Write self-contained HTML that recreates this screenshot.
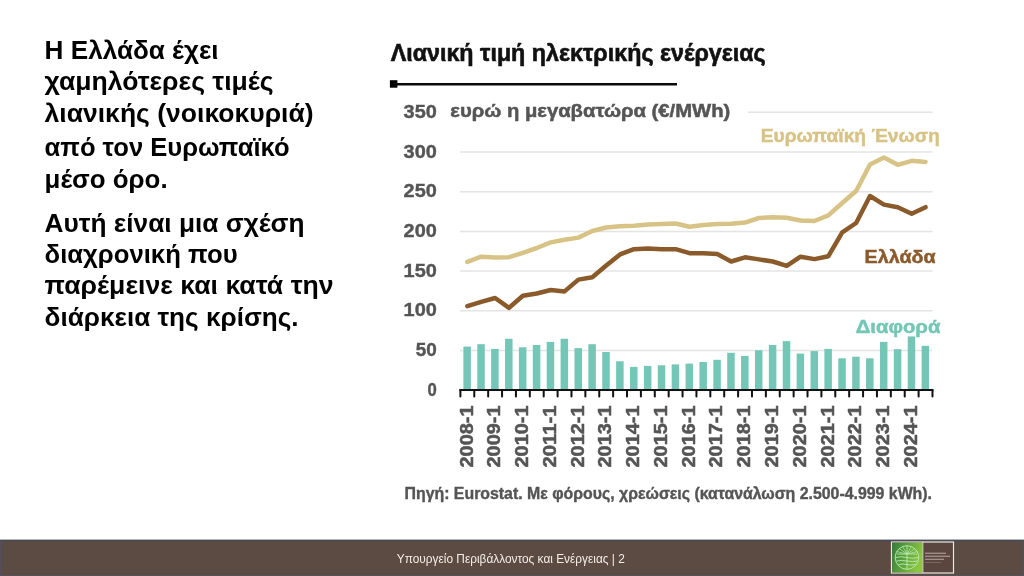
<!DOCTYPE html>
<html><head><meta charset="utf-8">
<style>
html,body{margin:0;padding:0;background:#fff;}
body{width:1024px;height:576px;overflow:hidden;position:relative;font-family:"Liberation Sans",sans-serif;}
svg{position:absolute;left:0;top:0;will-change:transform;}
.lt{font-family:"Liberation Sans",sans-serif;font-weight:bold;font-size:25px;fill:#000;}
.yl{font-family:"Liberation Sans",sans-serif;font-weight:bold;font-size:19px;fill:#555;stroke:#555;stroke-width:0.4px;}
.xl{font-family:"Liberation Sans",sans-serif;font-weight:bold;font-size:18px;fill:#555;stroke:#555;stroke-width:0.5px;}
.tt{font-family:"Liberation Sans",sans-serif;font-weight:bold;font-size:23.5px;fill:#111;stroke:#111;stroke-width:0.6px;}
.un{font-family:"Liberation Sans",sans-serif;font-weight:bold;font-size:19px;fill:#555;stroke:#555;stroke-width:0.5px;}
.lg{font-family:"Liberation Sans",sans-serif;font-weight:bold;font-size:19px;stroke-width:0.5px;}
.src{font-family:"Liberation Sans",sans-serif;font-weight:bold;font-size:16.5px;fill:#555;stroke:#555;stroke-width:0.4px;}
.ft{font-family:"Liberation Sans",sans-serif;font-size:12px;fill:#f4eee8;}
</style></head>
<body>
<svg width="1024" height="576" viewBox="0 0 1024 576">
<!-- left text -->
<text class="lt" x="44.6" y="58.80" textLength="174" lengthAdjust="spacingAndGlyphs">Η Ελλάδα έχει</text>
<text class="lt" x="44.6" y="90.10" textLength="229" lengthAdjust="spacingAndGlyphs">χαμηλότερες τιμές</text>
<text class="lt" x="44.6" y="122.30" textLength="269" lengthAdjust="spacingAndGlyphs">λιανικής (νοικοκυριά)</text>
<text class="lt" x="44.6" y="155.70" textLength="245" lengthAdjust="spacingAndGlyphs">από τον Ευρωπαϊκό</text>
<text class="lt" x="44.6" y="187.90" textLength="123" lengthAdjust="spacingAndGlyphs">μέσο όρο.</text>
<text class="lt" x="44.6" y="231.75" textLength="260" lengthAdjust="spacingAndGlyphs">Αυτή είναι μια σχέση</text>
<text class="lt" x="44.6" y="263.00" textLength="193" lengthAdjust="spacingAndGlyphs">διαχρονική που</text>
<text class="lt" x="44.6" y="294.25" textLength="289" lengthAdjust="spacingAndGlyphs">παρέμεινε και κατά την</text>
<text class="lt" x="44.6" y="325.50" textLength="254" lengthAdjust="spacingAndGlyphs">διάρκεια της κρίσης.</text>
<!-- chart title -->
<text class="tt" x="390.7" y="61.3" textLength="375" lengthAdjust="spacingAndGlyphs">Λιανική τιμή ηλεκτρικής ενέργειας</text>
<rect x="389.9" y="80.2" width="7.5" height="7.5" fill="#000"/>
<line x1="394" y1="84.3" x2="677" y2="84.3" stroke="#0a0a0a" stroke-width="2.4"/>
<text class="un" x="450.3" y="116.6" textLength="280" lengthAdjust="spacingAndGlyphs">ευρώ η μεγαβατώρα (€/MWh)</text>
<line x1="460" y1="350.5" x2="932.5" y2="350.5" stroke="#e4e4e4" stroke-width="1.5"/>
<line x1="460" y1="310.79999999999995" x2="932.5" y2="310.79999999999995" stroke="#e4e4e4" stroke-width="1.5"/>
<line x1="460" y1="271.09999999999997" x2="932.5" y2="271.09999999999997" stroke="#e4e4e4" stroke-width="1.5"/>
<line x1="460" y1="231.39999999999998" x2="932.5" y2="231.39999999999998" stroke="#e4e4e4" stroke-width="1.5"/>
<line x1="460" y1="191.7" x2="932.5" y2="191.7" stroke="#e4e4e4" stroke-width="1.5"/>
<line x1="460" y1="151.99999999999997" x2="932.5" y2="151.99999999999997" stroke="#e4e4e4" stroke-width="1.5"/>
<line x1="748" y1="112.3" x2="932.5" y2="112.3" stroke="#e4e4e4" stroke-width="1.5"/>
<rect x="463.39" y="346.60" width="7.5" height="43.40" fill="#74c7b6"/>
<rect x="477.28" y="344.20" width="7.5" height="45.80" fill="#74c7b6"/>
<rect x="491.16" y="348.90" width="7.5" height="41.10" fill="#74c7b6"/>
<rect x="505.05" y="338.75" width="7.5" height="51.25" fill="#74c7b6"/>
<rect x="518.93" y="347.30" width="7.5" height="42.70" fill="#74c7b6"/>
<rect x="532.82" y="345.00" width="7.5" height="45.00" fill="#74c7b6"/>
<rect x="546.70" y="341.90" width="7.5" height="48.10" fill="#74c7b6"/>
<rect x="560.59" y="338.75" width="7.5" height="51.25" fill="#74c7b6"/>
<rect x="574.47" y="348.10" width="7.5" height="41.90" fill="#74c7b6"/>
<rect x="588.36" y="344.20" width="7.5" height="45.80" fill="#74c7b6"/>
<rect x="602.24" y="352.00" width="7.5" height="38.00" fill="#74c7b6"/>
<rect x="616.13" y="361.25" width="7.5" height="28.75" fill="#74c7b6"/>
<rect x="630.01" y="366.90" width="7.5" height="23.10" fill="#74c7b6"/>
<rect x="643.90" y="365.90" width="7.5" height="24.10" fill="#74c7b6"/>
<rect x="657.78" y="365.30" width="7.5" height="24.70" fill="#74c7b6"/>
<rect x="671.67" y="364.40" width="7.5" height="25.60" fill="#74c7b6"/>
<rect x="685.55" y="363.60" width="7.5" height="26.40" fill="#74c7b6"/>
<rect x="699.44" y="362.00" width="7.5" height="28.00" fill="#74c7b6"/>
<rect x="713.32" y="359.80" width="7.5" height="30.20" fill="#74c7b6"/>
<rect x="727.21" y="352.80" width="7.5" height="37.20" fill="#74c7b6"/>
<rect x="741.09" y="355.90" width="7.5" height="34.10" fill="#74c7b6"/>
<rect x="754.98" y="350.30" width="7.5" height="39.70" fill="#74c7b6"/>
<rect x="768.86" y="345.00" width="7.5" height="45.00" fill="#74c7b6"/>
<rect x="782.75" y="341.10" width="7.5" height="48.90" fill="#74c7b6"/>
<rect x="796.63" y="353.60" width="7.5" height="36.40" fill="#74c7b6"/>
<rect x="810.52" y="351.10" width="7.5" height="38.90" fill="#74c7b6"/>
<rect x="824.40" y="348.90" width="7.5" height="41.10" fill="#74c7b6"/>
<rect x="838.29" y="358.30" width="7.5" height="31.70" fill="#74c7b6"/>
<rect x="852.17" y="356.70" width="7.5" height="33.30" fill="#74c7b6"/>
<rect x="866.06" y="358.30" width="7.5" height="31.70" fill="#74c7b6"/>
<rect x="879.94" y="341.90" width="7.5" height="48.10" fill="#74c7b6"/>
<rect x="893.83" y="349.20" width="7.5" height="40.80" fill="#74c7b6"/>
<rect x="907.71" y="336.40" width="7.5" height="53.60" fill="#74c7b6"/>
<rect x="921.60" y="345.80" width="7.5" height="44.20" fill="#74c7b6"/>
<polyline points="467.34,261.90 481.23,256.70 495.11,257.50 509.00,257.20 522.88,252.80 536.77,248.00 550.65,242.40 564.54,239.80 578.42,237.60 592.31,231.00 606.19,227.50 620.08,226.30 633.96,225.80 647.85,224.60 661.73,224.10 675.62,223.50 689.50,226.70 703.39,224.90 717.27,224.10 731.16,223.80 745.04,222.60 758.93,218.00 772.81,217.30 786.70,217.80 800.58,220.50 814.47,221.00 828.35,215.40 842.24,203.00 856.12,191.00 870.01,164.50 883.89,157.40 897.78,164.80 911.66,160.80 925.55,161.90" fill="none" stroke="#d8c386" stroke-width="4.5" stroke-linejoin="round" stroke-linecap="round"/>
<polyline points="467.34,306.10 481.23,301.80 495.11,298.00 509.00,307.90 522.88,295.70 536.77,293.50 550.65,290.00 564.54,291.40 578.42,279.60 592.31,277.20 606.19,265.50 620.08,254.40 633.96,249.20 647.85,248.40 661.73,249.20 675.62,249.20 689.50,253.20 703.39,253.20 717.27,254.10 731.16,261.50 745.04,257.30 758.93,259.40 772.81,261.50 786.70,265.90 800.58,256.70 814.47,259.10 828.35,256.20 842.24,232.40 856.12,223.00 870.01,196.00 883.89,204.60 897.78,207.20 911.66,213.80 925.55,207.20" fill="none" stroke="#8b5a2b" stroke-width="4.5" stroke-linejoin="round" stroke-linecap="round"/>
<line x1="459.4" y1="390.0" x2="933.4" y2="390.0" stroke="#111" stroke-width="2.2"/>
<line x1="460.40" y1="390.0" x2="460.40" y2="396.6" stroke="#111" stroke-width="2" stroke-linecap="round"/>
<line x1="474.28" y1="390.0" x2="474.28" y2="396.6" stroke="#111" stroke-width="2" stroke-linecap="round"/>
<line x1="488.17" y1="390.0" x2="488.17" y2="396.6" stroke="#111" stroke-width="2" stroke-linecap="round"/>
<line x1="502.05" y1="390.0" x2="502.05" y2="396.6" stroke="#111" stroke-width="2" stroke-linecap="round"/>
<line x1="515.94" y1="390.0" x2="515.94" y2="396.6" stroke="#111" stroke-width="2" stroke-linecap="round"/>
<line x1="529.82" y1="390.0" x2="529.82" y2="396.6" stroke="#111" stroke-width="2" stroke-linecap="round"/>
<line x1="543.71" y1="390.0" x2="543.71" y2="396.6" stroke="#111" stroke-width="2" stroke-linecap="round"/>
<line x1="557.60" y1="390.0" x2="557.60" y2="396.6" stroke="#111" stroke-width="2" stroke-linecap="round"/>
<line x1="571.48" y1="390.0" x2="571.48" y2="396.6" stroke="#111" stroke-width="2" stroke-linecap="round"/>
<line x1="585.37" y1="390.0" x2="585.37" y2="396.6" stroke="#111" stroke-width="2" stroke-linecap="round"/>
<line x1="599.25" y1="390.0" x2="599.25" y2="396.6" stroke="#111" stroke-width="2" stroke-linecap="round"/>
<line x1="613.13" y1="390.0" x2="613.13" y2="396.6" stroke="#111" stroke-width="2" stroke-linecap="round"/>
<line x1="627.02" y1="390.0" x2="627.02" y2="396.6" stroke="#111" stroke-width="2" stroke-linecap="round"/>
<line x1="640.90" y1="390.0" x2="640.90" y2="396.6" stroke="#111" stroke-width="2" stroke-linecap="round"/>
<line x1="654.79" y1="390.0" x2="654.79" y2="396.6" stroke="#111" stroke-width="2" stroke-linecap="round"/>
<line x1="668.67" y1="390.0" x2="668.67" y2="396.6" stroke="#111" stroke-width="2" stroke-linecap="round"/>
<line x1="682.56" y1="390.0" x2="682.56" y2="396.6" stroke="#111" stroke-width="2" stroke-linecap="round"/>
<line x1="696.44" y1="390.0" x2="696.44" y2="396.6" stroke="#111" stroke-width="2" stroke-linecap="round"/>
<line x1="710.33" y1="390.0" x2="710.33" y2="396.6" stroke="#111" stroke-width="2" stroke-linecap="round"/>
<line x1="724.21" y1="390.0" x2="724.21" y2="396.6" stroke="#111" stroke-width="2" stroke-linecap="round"/>
<line x1="738.10" y1="390.0" x2="738.10" y2="396.6" stroke="#111" stroke-width="2" stroke-linecap="round"/>
<line x1="751.98" y1="390.0" x2="751.98" y2="396.6" stroke="#111" stroke-width="2" stroke-linecap="round"/>
<line x1="765.87" y1="390.0" x2="765.87" y2="396.6" stroke="#111" stroke-width="2" stroke-linecap="round"/>
<line x1="779.75" y1="390.0" x2="779.75" y2="396.6" stroke="#111" stroke-width="2" stroke-linecap="round"/>
<line x1="793.64" y1="390.0" x2="793.64" y2="396.6" stroke="#111" stroke-width="2" stroke-linecap="round"/>
<line x1="807.52" y1="390.0" x2="807.52" y2="396.6" stroke="#111" stroke-width="2" stroke-linecap="round"/>
<line x1="821.41" y1="390.0" x2="821.41" y2="396.6" stroke="#111" stroke-width="2" stroke-linecap="round"/>
<line x1="835.29" y1="390.0" x2="835.29" y2="396.6" stroke="#111" stroke-width="2" stroke-linecap="round"/>
<line x1="849.18" y1="390.0" x2="849.18" y2="396.6" stroke="#111" stroke-width="2" stroke-linecap="round"/>
<line x1="863.07" y1="390.0" x2="863.07" y2="396.6" stroke="#111" stroke-width="2" stroke-linecap="round"/>
<line x1="876.95" y1="390.0" x2="876.95" y2="396.6" stroke="#111" stroke-width="2" stroke-linecap="round"/>
<line x1="890.84" y1="390.0" x2="890.84" y2="396.6" stroke="#111" stroke-width="2" stroke-linecap="round"/>
<line x1="904.72" y1="390.0" x2="904.72" y2="396.6" stroke="#111" stroke-width="2" stroke-linecap="round"/>
<line x1="918.61" y1="390.0" x2="918.61" y2="396.6" stroke="#111" stroke-width="2" stroke-linecap="round"/>
<line x1="932.49" y1="390.0" x2="932.49" y2="396.6" stroke="#111" stroke-width="2" stroke-linecap="round"/>
<text x="403.6" y="117.8" class="yl" textLength="33.2" lengthAdjust="spacingAndGlyphs">350</text>
<text x="403.6" y="157.5" class="yl" textLength="33.2" lengthAdjust="spacingAndGlyphs">300</text>
<text x="403.6" y="197.2" class="yl" textLength="33.2" lengthAdjust="spacingAndGlyphs">250</text>
<text x="403.6" y="236.9" class="yl" textLength="33.2" lengthAdjust="spacingAndGlyphs">200</text>
<text x="403.6" y="276.6" class="yl" textLength="33.2" lengthAdjust="spacingAndGlyphs">150</text>
<text x="403.6" y="316.3" class="yl" textLength="33.2" lengthAdjust="spacingAndGlyphs">100</text>
<text x="415.8" y="356.0" class="yl" textLength="21" lengthAdjust="spacingAndGlyphs">50</text>
<text x="427.5" y="395.7" class="yl" textLength="9.3" lengthAdjust="spacingAndGlyphs">0</text>
<text transform="translate(472.54,467.5) rotate(-90)" class="xl" textLength="62" lengthAdjust="spacingAndGlyphs">2008-1</text>
<text transform="translate(500.31,467.5) rotate(-90)" class="xl" textLength="62" lengthAdjust="spacingAndGlyphs">2009-1</text>
<text transform="translate(528.08,467.5) rotate(-90)" class="xl" textLength="62" lengthAdjust="spacingAndGlyphs">2010-1</text>
<text transform="translate(555.85,467.5) rotate(-90)" class="xl" textLength="62" lengthAdjust="spacingAndGlyphs">2011-1</text>
<text transform="translate(583.62,467.5) rotate(-90)" class="xl" textLength="62" lengthAdjust="spacingAndGlyphs">2012-1</text>
<text transform="translate(611.39,467.5) rotate(-90)" class="xl" textLength="62" lengthAdjust="spacingAndGlyphs">2013-1</text>
<text transform="translate(639.16,467.5) rotate(-90)" class="xl" textLength="62" lengthAdjust="spacingAndGlyphs">2014-1</text>
<text transform="translate(666.93,467.5) rotate(-90)" class="xl" textLength="62" lengthAdjust="spacingAndGlyphs">2015-1</text>
<text transform="translate(694.70,467.5) rotate(-90)" class="xl" textLength="62" lengthAdjust="spacingAndGlyphs">2016-1</text>
<text transform="translate(722.47,467.5) rotate(-90)" class="xl" textLength="62" lengthAdjust="spacingAndGlyphs">2017-1</text>
<text transform="translate(750.24,467.5) rotate(-90)" class="xl" textLength="62" lengthAdjust="spacingAndGlyphs">2018-1</text>
<text transform="translate(778.01,467.5) rotate(-90)" class="xl" textLength="62" lengthAdjust="spacingAndGlyphs">2019-1</text>
<text transform="translate(805.78,467.5) rotate(-90)" class="xl" textLength="62" lengthAdjust="spacingAndGlyphs">2020-1</text>
<text transform="translate(833.55,467.5) rotate(-90)" class="xl" textLength="62" lengthAdjust="spacingAndGlyphs">2021-1</text>
<text transform="translate(861.32,467.5) rotate(-90)" class="xl" textLength="62" lengthAdjust="spacingAndGlyphs">2022-1</text>
<text transform="translate(889.09,467.5) rotate(-90)" class="xl" textLength="62" lengthAdjust="spacingAndGlyphs">2023-1</text>
<text transform="translate(916.86,467.5) rotate(-90)" class="xl" textLength="62" lengthAdjust="spacingAndGlyphs">2024-1</text>
<text class="lg" x="760.7" y="142.3" fill="#d8c386" stroke="#d8c386" textLength="179" lengthAdjust="spacingAndGlyphs">Ευρωπαϊκή Ένωση</text>
<text class="lg" x="864.6" y="262.8" fill="#8b5a2b" stroke="#8b5a2b" textLength="71" lengthAdjust="spacingAndGlyphs">Ελλάδα</text>
<text class="lg" x="855.7" y="332.8" fill="#74c7b6" stroke="#74c7b6" textLength="84.7" lengthAdjust="spacingAndGlyphs">Διαφορά</text>
<text class="src" x="404.5" y="498.7" textLength="527.5" lengthAdjust="spacingAndGlyphs">Πηγή: Eurostat. Με φόρους, χρεώσεις (κατανάλωση 2.500-4.999 kWh).</text>
<!-- footer -->
<rect x="0" y="540.2" width="1024" height="36" fill="#5b4b43"/>
<rect x="0" y="539.6" width="1024" height="1.8" fill="#474a56"/>
<text class="ft" x="396.8" y="562.8" textLength="228" lengthAdjust="spacingAndGlyphs">Υπουργείο Περιβάλλοντος και Ενέργειας | 2</text>
<rect x="0" y="540" width="1.6" height="36" fill="#52505c"/>
<rect x="1022.6" y="540" width="1.4" height="36" fill="#524e5c"/>
<rect x="0" y="575" width="1024" height="1" fill="#55505a"/>
<!-- logo -->
<defs><linearGradient id="lg1" x1="0" y1="0" x2="1" y2="0.3"><stop offset="0" stop-color="#2f7d3a"/><stop offset="1" stop-color="#8dc641"/></linearGradient></defs>
<rect x="891.5" y="542" width="62" height="31" fill="#5a463e" stroke="#ebe6df" stroke-width="1.2"/>
<rect x="892.1" y="542.6" width="30.6" height="29.8" fill="url(#lg1)"/>
<line x1="922.9" y1="542" x2="922.9" y2="573" stroke="#ebe6df" stroke-width="0.8"/>
<g stroke="#b9ecb0" fill="none" stroke-width="0.9">
<circle cx="907" cy="557.5" r="11.8"/>
<line x1="907" y1="546" x2="907" y2="569.3"/>
<path d="M897 554 L917 554 M895.5 557.5 Q901 556 907 557.5 Q913 559 918.5 557.5 M896.5 561 Q901 560 907 561 Q913 562 917.5 561 M898.5 564.5 Q903 563.5 907 564.5 Q912 565.5 915.5 564.5"/>
<path d="M907 554 L899 548.5 M907 554 L902.5 546.5 M907 554 L911.5 546.5 M907 554 L915 548.5 M907 554 L917.5 551.5 M907 554 L896.5 551.5" stroke-width="0.7"/>
</g>
<g fill="#9d8f86">
<rect x="925" y="552.6" width="21" height="1.4"/>
<rect x="925" y="555.6" width="25" height="1.4"/>
<rect x="925" y="558.6" width="19" height="1.4"/>
<rect x="925" y="562" width="16" height="1" fill="#7a6a62"/>
</g>
</svg>
</body></html>
